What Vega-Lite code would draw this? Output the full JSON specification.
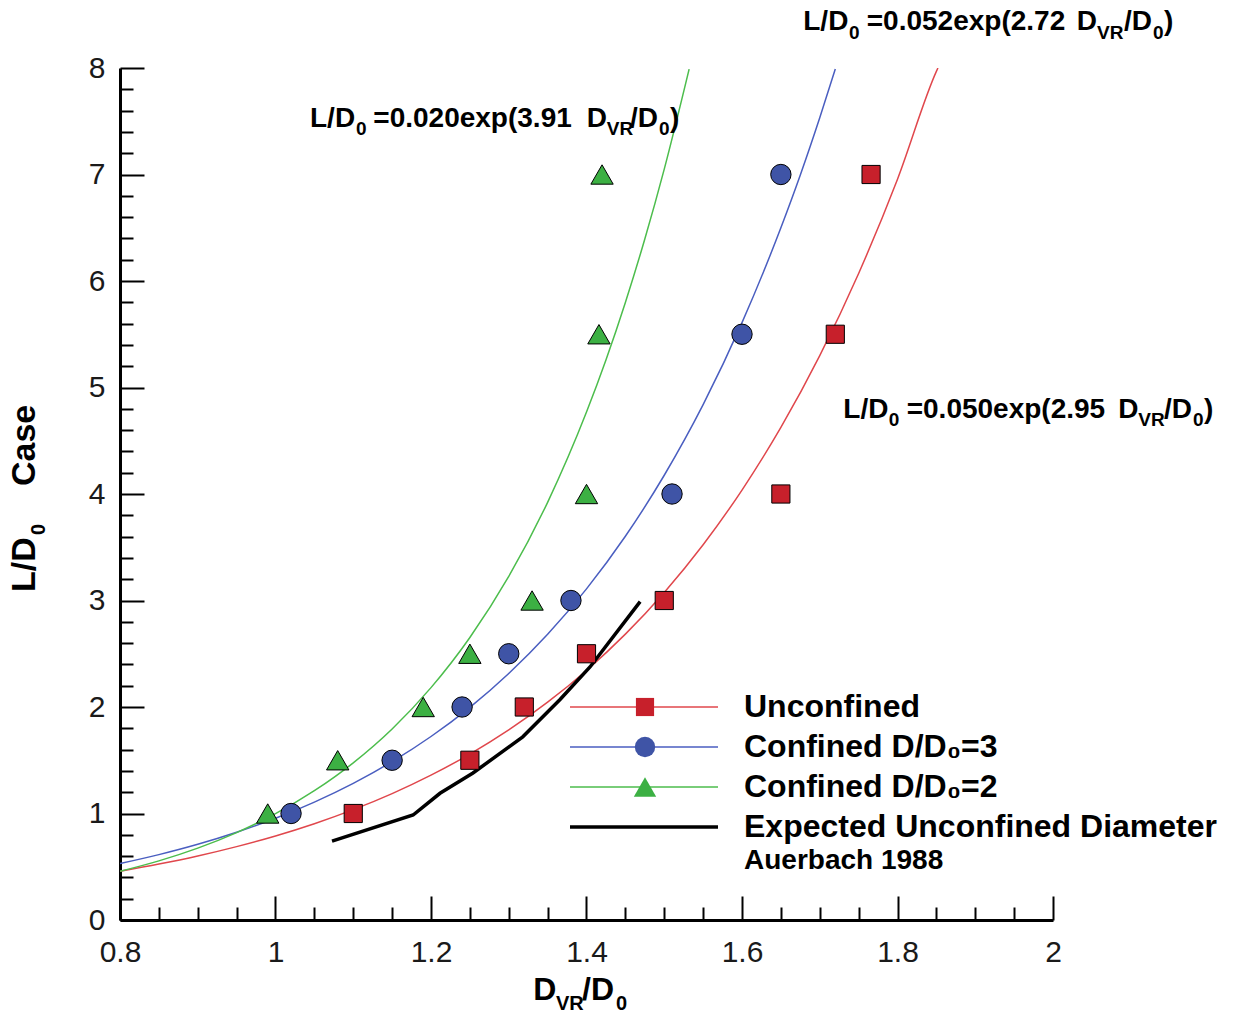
{
  "$schema": "https://vega.github.io/schema/vega-lite/v6.json",
  "width": 933,
  "height": 852,
  "autosize": {"type": "none"},
  "padding": {"left": 120, "top": 68, "right": 194, "bottom": 96},
  "background": "white",
  "config": {"view": {"stroke": null}, "font": "Liberation Sans"},
  "datasets": {
    "fits": [
      {"series": "Unconfined", "x": 0.8, "y": 0.458},
      {"series": "Unconfined", "x": 0.85, "y": 0.525},
      {"series": "Unconfined", "x": 0.9, "y": 0.601},
      {"series": "Unconfined", "x": 0.95, "y": 0.689},
      {"series": "Unconfined", "x": 1.0, "y": 0.789},
      {"series": "Unconfined", "x": 1.05, "y": 0.904},
      {"series": "Unconfined", "x": 1.1, "y": 1.036},
      {"series": "Unconfined", "x": 1.15, "y": 1.187},
      {"series": "Unconfined", "x": 1.2, "y": 1.36},
      {"series": "Unconfined", "x": 1.25, "y": 1.558},
      {"series": "Unconfined", "x": 1.3, "y": 1.785},
      {"series": "Unconfined", "x": 1.35, "y": 2.045},
      {"series": "Unconfined", "x": 1.4, "y": 2.343},
      {"series": "Unconfined", "x": 1.45, "y": 2.684},
      {"series": "Unconfined", "x": 1.5, "y": 3.076},
      {"series": "Unconfined", "x": 1.55, "y": 3.524},
      {"series": "Unconfined", "x": 1.6, "y": 4.037},
      {"series": "Unconfined", "x": 1.65, "y": 4.625},
      {"series": "Unconfined", "x": 1.7, "y": 5.299},
      {"series": "Unconfined", "x": 1.75, "y": 6.071},
      {"series": "Unconfined", "x": 1.8, "y": 6.956},
      {"series": "Unconfined", "x": 1.85, "y": 7.968},
      {"series": "Unconfined", "x": 1.852, "y": 8.0},
      {"series": "Confined D/D₀=3", "x": 0.8, "y": 0.53},
      {"series": "Confined D/D₀=3", "x": 0.85, "y": 0.614},
      {"series": "Confined D/D₀=3", "x": 0.9, "y": 0.711},
      {"series": "Confined D/D₀=3", "x": 0.95, "y": 0.824},
      {"series": "Confined D/D₀=3", "x": 1.0, "y": 0.955},
      {"series": "Confined D/D₀=3", "x": 1.05, "y": 1.107},
      {"series": "Confined D/D₀=3", "x": 1.1, "y": 1.283},
      {"series": "Confined D/D₀=3", "x": 1.15, "y": 1.487},
      {"series": "Confined D/D₀=3", "x": 1.2, "y": 1.723},
      {"series": "Confined D/D₀=3", "x": 1.25, "y": 1.997},
      {"series": "Confined D/D₀=3", "x": 1.3, "y": 2.315},
      {"series": "Confined D/D₀=3", "x": 1.35, "y": 2.683},
      {"series": "Confined D/D₀=3", "x": 1.4, "y": 3.109},
      {"series": "Confined D/D₀=3", "x": 1.45, "y": 3.603},
      {"series": "Confined D/D₀=3", "x": 1.5, "y": 4.176},
      {"series": "Confined D/D₀=3", "x": 1.55, "y": 4.839},
      {"series": "Confined D/D₀=3", "x": 1.6, "y": 5.609},
      {"series": "Confined D/D₀=3", "x": 1.65, "y": 6.5},
      {"series": "Confined D/D₀=3", "x": 1.675, "y": 6.996},
      {"series": "Confined D/D₀=3", "x": 1.7, "y": 7.533},
      {"series": "Confined D/D₀=3", "x": 1.72, "y": 7.99},
      {"series": "Confined D/D₀=2", "x": 0.8, "y": 0.457},
      {"series": "Confined D/D₀=2", "x": 0.85, "y": 0.555},
      {"series": "Confined D/D₀=2", "x": 0.9, "y": 0.675},
      {"series": "Confined D/D₀=2", "x": 0.95, "y": 0.821},
      {"series": "Confined D/D₀=2", "x": 1.0, "y": 0.998},
      {"series": "Confined D/D₀=2", "x": 1.05, "y": 1.214},
      {"series": "Confined D/D₀=2", "x": 1.1, "y": 1.476},
      {"series": "Confined D/D₀=2", "x": 1.15, "y": 1.794},
      {"series": "Confined D/D₀=2", "x": 1.2, "y": 2.182},
      {"series": "Confined D/D₀=2", "x": 1.25, "y": 2.653},
      {"series": "Confined D/D₀=2", "x": 1.3, "y": 3.226},
      {"series": "Confined D/D₀=2", "x": 1.35, "y": 3.922},
      {"series": "Confined D/D₀=2", "x": 1.4, "y": 4.769},
      {"series": "Confined D/D₀=2", "x": 1.425, "y": 5.258},
      {"series": "Confined D/D₀=2", "x": 1.45, "y": 5.799},
      {"series": "Confined D/D₀=2", "x": 1.475, "y": 6.394},
      {"series": "Confined D/D₀=2", "x": 1.5, "y": 7.051},
      {"series": "Confined D/D₀=2", "x": 1.532, "y": 7.99},
      {"series": "Expected Unconfined Diameter", "x": 1.0727, "y": 0.74},
      {"series": "Expected Unconfined Diameter", "x": 1.177, "y": 0.986},
      {"series": "Expected Unconfined Diameter", "x": 1.2116, "y": 1.19},
      {"series": "Expected Unconfined Diameter", "x": 1.254, "y": 1.38},
      {"series": "Expected Unconfined Diameter", "x": 1.318, "y": 1.72},
      {"series": "Expected Unconfined Diameter", "x": 1.366, "y": 2.07},
      {"series": "Expected Unconfined Diameter", "x": 1.4045, "y": 2.376},
      {"series": "Expected Unconfined Diameter", "x": 1.469, "y": 2.99}
    ],
    "points": [
      {"series": "Unconfined", "x": 1.1, "y": 1.0},
      {"series": "Unconfined", "x": 1.25, "y": 1.5},
      {"series": "Unconfined", "x": 1.32, "y": 2.0},
      {"series": "Unconfined", "x": 1.4, "y": 2.5},
      {"series": "Unconfined", "x": 1.5, "y": 3.0},
      {"series": "Unconfined", "x": 1.65, "y": 4.0},
      {"series": "Unconfined", "x": 1.72, "y": 5.5},
      {"series": "Unconfined", "x": 1.766, "y": 7.0},
      {"series": "Confined D/D₀=3", "x": 1.02, "y": 1.0},
      {"series": "Confined D/D₀=3", "x": 1.15, "y": 1.5},
      {"series": "Confined D/D₀=3", "x": 1.24, "y": 2.0},
      {"series": "Confined D/D₀=3", "x": 1.3, "y": 2.5},
      {"series": "Confined D/D₀=3", "x": 1.38, "y": 3.0},
      {"series": "Confined D/D₀=3", "x": 1.51, "y": 4.0},
      {"series": "Confined D/D₀=3", "x": 1.6, "y": 5.5},
      {"series": "Confined D/D₀=3", "x": 1.65, "y": 7.0},
      {"series": "Confined D/D₀=2", "x": 0.99, "y": 1.0},
      {"series": "Confined D/D₀=2", "x": 1.08, "y": 1.5},
      {"series": "Confined D/D₀=2", "x": 1.19, "y": 2.0},
      {"series": "Confined D/D₀=2", "x": 1.25, "y": 2.5},
      {"series": "Confined D/D₀=2", "x": 1.33, "y": 3.0},
      {"series": "Confined D/D₀=2", "x": 1.4, "y": 4.0},
      {"series": "Confined D/D₀=2", "x": 1.416, "y": 5.5},
      {"series": "Confined D/D₀=2", "x": 1.42, "y": 7.0}
    ],
    "notes": [
      {"t": "L/D", "x": 1.6788, "y": 8.357, "p": "main"},
      {"t": "0", "x": 1.7376, "y": 8.272, "p": "sub"},
      {"t": "=0.052exp(2.72", "x": 1.7604, "y": 8.357, "p": "main"},
      {"t": "D", "x": 2.0305, "y": 8.357, "p": "main"},
      {"t": "VR", "x": 2.0566, "y": 8.272, "p": "sub"},
      {"t": "/D", "x": 2.0913, "y": 8.357, "p": "main"},
      {"t": "0", "x": 2.1286, "y": 8.272, "p": "sub"},
      {"t": ")", "x": 2.1428, "y": 8.357, "p": "main"},
      {"t": "L/D", "x": 1.0444, "y": 7.449, "p": "main"},
      {"t": "0", "x": 1.1036, "y": 7.371, "p": "sub"},
      {"t": "=0.020exp(3.91", "x": 1.1258, "y": 7.449, "p": "main"},
      {"t": "D", "x": 1.4003, "y": 7.449, "p": "main"},
      {"t": "VR", "x": 1.426, "y": 7.371, "p": "sub"},
      {"t": "/D", "x": 1.456, "y": 7.449, "p": "main"},
      {"t": "0", "x": 1.4933, "y": 7.371, "p": "sub"},
      {"t": ")", "x": 1.5074, "y": 7.449, "p": "main"},
      {"t": "L/D", "x": 1.7303, "y": 4.716, "p": "main"},
      {"t": "0", "x": 1.7887, "y": 4.636, "p": "sub"},
      {"t": "=0.050exp(2.95", "x": 1.8118, "y": 4.716, "p": "main"},
      {"t": "D", "x": 2.084, "y": 4.716, "p": "main"},
      {"t": "VR", "x": 2.1097, "y": 4.636, "p": "sub"},
      {"t": "/D", "x": 2.1428, "y": 4.716, "p": "main"},
      {"t": "0", "x": 2.1801, "y": 4.636, "p": "sub"},
      {"t": ")", "x": 2.1942, "y": 4.716, "p": "main"},
      {"t": "D", "x": 1.3316, "y": -0.7512, "p": "xmain"},
      {"t": "VR", "x": 1.3608, "y": -0.8451, "p": "xsub"},
      {"t": "/D", "x": 1.3942, "y": -0.7512, "p": "xmain"},
      {"t": "0", "x": 1.4379, "y": -0.8451, "p": "xsub"},
      {"t": "L/D", "x": 0.6907, "y": 3.0798, "p": "ymain"},
      {"t": "0", "x": 0.7035, "y": 3.615, "p": "ysub"},
      {"t": "Case", "x": 0.6907, "y": 4.0751, "p": "ymain"}
    ]
  },
  "encoding": {
    "x": {
      "field": "x",
      "type": "quantitative",
      "scale": {"domain": [0.8, 2], "nice": false, "zero": false},
      "axis": {
        "title": null,
        "values": [0.8, 0.85, 0.9, 0.95, 1.0, 1.05, 1.1, 1.15, 1.2, 1.25, 1.3, 1.35, 1.4, 1.45, 1.5, 1.55, 1.6, 1.65, 1.7, 1.75, 1.8, 1.85, 1.9, 1.95, 2.0],
        "labelExpr": "abs(datum.value*5 - round(datum.value*5)) < 0.001 ? format(datum.value, '~g') : ''",
        "tickSize": {"condition": {"test": "abs(datum.value*5 - round(datum.value*5)) < 0.001", "value": -24}, "value": -13},
        "tickWidth": 2,
        "tickColor": "black",
        "domainWidth": 3,
        "domainColor": "black",
        "labelFont": "Liberation Sans",
        "labelFontSize": 30,
        "labelColor": "#1a1a1a",
        "labelPadding": 41,
        "labelOverlap": false,
        "labelFlush": false,
        "grid": false
      }
    },
    "y": {
      "field": "y",
      "type": "quantitative",
      "scale": {"domain": [0, 8], "nice": false, "zero": false},
      "axis": {
        "title": null,
        "values": [0, 0.2, 0.4, 0.6, 0.8, 1, 1.2, 1.4, 1.6, 1.8, 2, 2.2, 2.4, 2.6, 2.8, 3, 3.2, 3.4, 3.6, 3.8, 4, 4.2, 4.4, 4.6, 4.8, 5, 5.2, 5.4, 5.6, 5.8, 6, 6.2, 6.4, 6.6, 6.8, 7, 7.2, 7.4, 7.6, 7.8, 8],
        "labelExpr": "abs(datum.value - round(datum.value)) < 0.001 ? format(datum.value, 'd') : ''",
        "tickSize": {"condition": {"test": "abs(datum.value - round(datum.value)) < 0.001", "value": -24}, "value": -13},
        "tickWidth": 2,
        "tickColor": "black",
        "domainWidth": 3,
        "domainColor": "black",
        "labelFont": "Liberation Sans",
        "labelFontSize": 30,
        "labelColor": "#1a1a1a",
        "labelPadding": 39,
        "labelOverlap": false,
        "labelFlush": false,
        "grid": false
      }
    }
  },
  "layer": [
    {
      "data": {"name": "fits"},
      "transform": [{"filter": "datum.series !== 'Expected Unconfined Diameter'"}],
      "mark": {"type": "line", "interpolate": "monotone", "clip": true, "strokeWidth": 1.5},
      "encoding": {
        "color": {
          "field": "series",
          "type": "nominal",
          "scale": {
            "domain": ["Unconfined", "Confined D/D₀=3", "Confined D/D₀=2", "Expected Unconfined Diameter", "Auerbach 1988"],
            "range": ["#e0474c", "#4a5ec0", "#4cbd4c", "#000000", "rgba(0,0,0,0)"]
          },
          "legend": {
            "orient": "none",
            "legendX": 450,
            "legendY": 619,
            "title": null,
            "symbolType": "stroke",
            "symbolSize": 21904,
            "symbolStrokeWidth": 1.5,
            "clipHeight": 40,
            "rowPadding": 0,
            "padding": 0,
            "symbolOffset": 58,
            "labelFont": "Liberation Sans",
            "labelFontWeight": "bold",
            "labelFontSize": 32,
            "labelColor": "black",
            "labelOffset": 84,
            "labelLimit": 800,
            "encode": {
              "symbols": {
                "update": {
                  "strokeWidth": {"signal": "datum.value === 'Expected Unconfined Diameter' ? 3.5 : 1.5"}
                }
              },
              "labels": {
                "update": {
                  "fontSize": {"signal": "datum.label === 'Auerbach 1988' ? 28 : 32"},
                  "dy": {"signal": "datum.label === 'Auerbach 1988' ? -6 : 0"}
                }
              }
            }
          }
        }
      }
    },
    {
      "data": {"name": "fits"},
      "transform": [{"filter": "datum.series === 'Expected Unconfined Diameter'"}],
      "mark": {"type": "line", "interpolate": "linear", "clip": true, "strokeWidth": 3.5},
      "encoding": {
        "color": {"field": "series", "type": "nominal"}
      }
    },
    {
      "data": {"name": "points"},
      "mark": {"type": "point", "filled": true, "stroke": "black", "strokeWidth": 1, "opacity": 1},
      "encoding": {
        "fill": {
          "field": "series",
          "type": "nominal",
          "scale": {"domain": ["Unconfined", "Confined D/D₀=3", "Confined D/D₀=2"], "range": ["#c7202b", "#3f54a6", "#3cb043"]},
          "legend": {
            "orient": "none", "legendX": 513, "legendY": 619, "title": null,
            "clipHeight": 40, "rowPadding": 0, "padding": 0, "labelExpr": "''",
            "symbolStrokeColor": "black", "symbolStrokeWidth": 1, "symbolOpacity": 1
          }
        },
        "shape": {
          "field": "series",
          "type": "nominal",
          "scale": {"domain": ["Unconfined", "Confined D/D₀=3", "Confined D/D₀=2"], "range": ["square", "circle", "triangle-up"]},
          "legend": {
            "orient": "none", "legendX": 513, "legendY": 619, "title": null,
            "clipHeight": 40, "rowPadding": 0, "padding": 0, "labelExpr": "''",
            "symbolStrokeColor": "black", "symbolStrokeWidth": 1, "symbolOpacity": 1
          }
        },
        "size": {
          "field": "series",
          "type": "nominal",
          "scale": {"domain": ["Unconfined", "Confined D/D₀=3", "Confined D/D₀=2"], "range": [330, 500, 400]},
          "legend": {
            "orient": "none", "legendX": 513, "legendY": 619, "title": null,
            "clipHeight": 40, "rowPadding": 0, "padding": 0, "labelExpr": "''",
            "symbolStrokeColor": "black", "symbolStrokeWidth": 1, "symbolOpacity": 1
          }
        }
      }
    },
    {
      "data": {"name": "notes"},
      "transform": [{"filter": "datum.p === 'main'"}],
      "mark": {"type": "text", "align": "left", "baseline": "alphabetic", "font": "Liberation Sans", "fontWeight": "bold", "fontSize": 28, "color": "black", "clip": false},
      "encoding": {"text": {"field": "t"}}
    },
    {
      "data": {"name": "notes"},
      "transform": [{"filter": "datum.p === 'sub'"}],
      "mark": {"type": "text", "align": "left", "baseline": "alphabetic", "font": "Liberation Sans", "fontWeight": "bold", "fontSize": 19, "color": "black", "clip": false},
      "encoding": {"text": {"field": "t"}}
    },
    {
      "data": {"name": "notes"},
      "transform": [{"filter": "datum.p === 'xmain'"}],
      "mark": {"type": "text", "align": "left", "baseline": "alphabetic", "font": "Liberation Sans", "fontWeight": "bold", "fontSize": 32, "color": "black", "clip": false},
      "encoding": {"text": {"field": "t"}}
    },
    {
      "data": {"name": "notes"},
      "transform": [{"filter": "datum.p === 'xsub'"}],
      "mark": {"type": "text", "align": "left", "baseline": "alphabetic", "font": "Liberation Sans", "fontWeight": "bold", "fontSize": 20, "color": "black", "clip": false},
      "encoding": {"text": {"field": "t"}}
    },
    {
      "data": {"name": "notes"},
      "transform": [{"filter": "datum.p === 'ymain'"}],
      "mark": {"type": "text", "align": "left", "baseline": "alphabetic", "angle": 270, "font": "Liberation Sans", "fontWeight": "bold", "fontSize": 34, "color": "black", "clip": false},
      "encoding": {"text": {"field": "t"}}
    },
    {
      "data": {"name": "notes"},
      "transform": [{"filter": "datum.p === 'ysub'"}],
      "mark": {"type": "text", "align": "left", "baseline": "alphabetic", "angle": 270, "font": "Liberation Sans", "fontWeight": "bold", "fontSize": 20, "color": "black", "clip": false},
      "encoding": {"text": {"field": "t"}}
    }
  ]
}
